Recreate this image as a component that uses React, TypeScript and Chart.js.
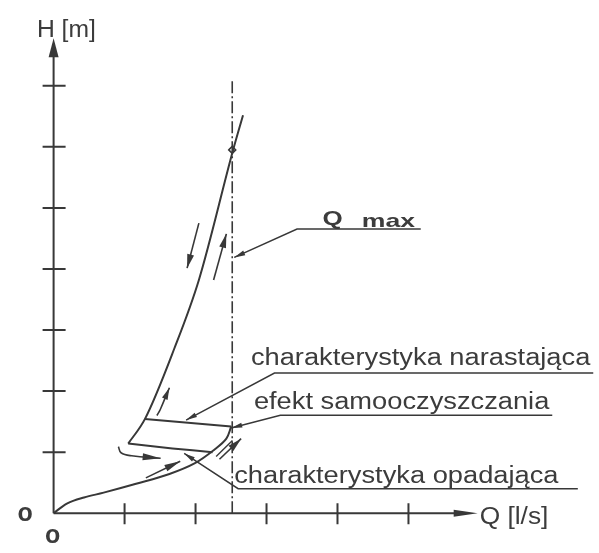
import { useEffect, useRef } from 'react';
import { Chart, registerables } from 'chart.js';

Chart.register(...registerables);

// ---- axis ticks (Q in tick units, H in tick units) ----
const xTicks = [1, 2, 3, 4, 5];
const yTicks = [1, 2, 3, 4, 5, 6, 7];
const Q_AXIS_END = 5.975;
const H_AXIS_END = 7.78;
const Q_MAX = 2.517;
const Q_MAX_LINE_TOP = 7.11;

// ---- curves ----
// rising characteristic from the origin (lower branch)
const risingQ = [0, 0.194, 0.429, 0.705, 1.162, 1.632, 1.992, 2.268, 2.434, 2.503];
const risingH = [0, 0.161, 0.257, 0.337, 0.482, 0.642, 0.819, 1.043, 1.22, 1.42];
// self-cleaning jump (upper horizontal, going back left)
const cleaningQ = [2.503, 1.286];
const cleaningH = [1.42, 1.541];
// steep branch up to Q max and beyond
const steepQ = [1.051, 1.286, 1.701, 2.047, 2.531, 2.669];
const steepH = [1.14, 1.541, 2.697, 3.82, 5.955, 6.517];
// falling characteristic (lower horizontal)
const fallingQ = [1.051, 1.674, 2.24];
const fallingH = [1.14, 1.059, 1.0];
// Q max marker
const markerQ = [2.517];
const markerH = [5.95];

// ---- direction arrows ----
const arrowDownQ = [2.047, 1.881];
const arrowDownH = [4.751, 4.013];
const arrowUpQ = [2.254, 2.434];
const arrowUpH = [3.82, 4.575];
const arrowHookQ = [1.455, 1.475, 1.5, 1.632];
const arrowHookH = [1.6, 1.64, 1.69, 2.055];
const arrowCurlQ = [0.913, 0.95, 1.1, 1.508];
const arrowCurlH = [1.091, 0.99, 0.94, 0.899];
const arrowLowQ = [1.3, 1.784];
const arrowLowH = [0.578, 0.851];
const arrowDblAQ = [2.337, 2.642];
const arrowDblAH = [0.883, 1.22];
const arrowDblBQ = [2.29, 2.52];
const arrowDblBH = [0.93, 1.19];

// ---- leader lines (tip first) ----
const leaderMaxQ = [2.545, 3.43, 5.173];
const leaderMaxH = [4.189, 4.655, 4.655];
const leaderRiseQ = [1.867, 3.112, 7.607];
const leaderRiseH = [1.525, 2.295, 2.295];
const leaderCleanQ = [2.503, 3.195, 7.026];
const leaderCleanH = [1.396, 1.605, 1.605];
const leaderFallQ = [1.84, 2.6, 7.386];
const leaderFallH = [0.979, 0.401, 0.401];

// ---- labels ----
const labelTexts = ['charakterystyka narastająca', 'efekt samooczyszczania', 'charakterystyka opadająca'];
const labelQ = [2.78, 2.822, 2.545];
const labelH = [2.424, 1.701, 0.498];
const axisTitleX = 'Q [l/s]';
const axisTitleY = 'H [m]';
const qMaxWord1 = 'Q';
const qMaxWord2 = 'max';
const zeroText = 'o';

const INK = '#383838';
const TEXT = '#3c3c3c';

const zip = (xs: number[], ys: number[]) => xs.map((v, i) => ({ x: v, y: ys[i] }));

type DS = any;

const line = (xs: number[], ys: number[], extra: DS = {}): DS => ({
  data: zip(xs, ys),
  showLine: true,
  borderColor: INK,
  backgroundColor: INK,
  borderWidth: 2,
  pointRadius: 0,
  tension: 0,
  ...extra,
});

function head(ctx: CanvasRenderingContext2D, tx: number, ty: number, fx: number, fy: number, len: number, half: number) {
  const a = Math.atan2(ty - fy, tx - fx);
  const bx = tx - len * Math.cos(a);
  const by = ty - len * Math.sin(a);
  const nx = -Math.sin(a) * half;
  const ny = Math.cos(a) * half;
  ctx.beginPath();
  ctx.moveTo(tx, ty);
  ctx.lineTo(bx + nx, by + ny);
  ctx.lineTo(bx - nx, by - ny);
  ctx.closePath();
  ctx.fill();
}

const diagramPlugin = {
  id: 'diagram',
  beforeDraw(chart: any) {
    const { ctx, width, height } = chart;
    ctx.save();
    ctx.fillStyle = '#ffffff';
    ctx.fillRect(0, 0, width, height);
    ctx.restore();
  },
  afterDatasetsDraw(chart: any) {
    const { ctx } = chart;
    const xs = chart.scales.x;
    const ys = chart.scales.y;
    const px = (v: number) => xs.getPixelForValue(v);
    const py = (v: number) => ys.getPixelForValue(v);
    ctx.save();
    ctx.strokeStyle = INK;
    ctx.fillStyle = INK;
    ctx.lineWidth = 2;
    ctx.lineCap = 'butt';

    // axes
    const ox = px(0);
    const oy = py(0);
    ctx.beginPath();
    ctx.moveTo(ox, oy);
    ctx.lineTo(ox, py(H_AXIS_END) + 10);
    ctx.moveTo(ox, oy);
    ctx.lineTo(px(Q_AXIS_END) - 12, oy);
    ctx.stroke();
    head(ctx, ox, py(H_AXIS_END), ox, oy, 19, 5);
    head(ctx, px(Q_AXIS_END), oy, ox, oy, 24, 3.5);

    // ticks crossing the axes
    ctx.beginPath();
    yTicks.forEach((t) => {
      const yy = py(t);
      ctx.moveTo(ox - 11, yy);
      ctx.lineTo(ox + 12, yy);
    });
    xTicks.forEach((t) => {
      const xx = px(t);
      ctx.moveTo(xx, oy - 10);
      ctx.lineTo(xx, oy + 11);
    });
    ctx.stroke();

    // arrowheads on datasets
    chart.data.datasets.forEach((ds: any) => {
      if (!ds.arrowAt) return;
      const d = ds.data;
      let tip, from;
      if (ds.arrowAt === 'start') {
        tip = d[0];
        from = d[1];
      } else {
        tip = d[d.length - 1];
        from = d[d.length - 2];
      }
      head(ctx, px(tip.x), py(tip.y), px(from.x), py(from.y), ds.headLen || 12, ds.headHalf || 3.5);
    });

    // texts
    ctx.fillStyle = TEXT;
    ctx.textBaseline = 'alphabetic';
    ctx.textAlign = 'left';
    const drawText = (txt: string, x: number, y: number, font: string, sx: number) => {
      ctx.save();
      ctx.translate(x, y);
      ctx.scale(sx, 1);
      ctx.font = font;
      ctx.fillText(txt, 0, 0);
      ctx.restore();
    };
    const labelFont = '23.5px "Liberation Sans", Arial, sans-serif';
    labelTexts.forEach((t, i) => drawText(t, px(labelQ[i]), py(labelH[i]), labelFont, 1.16));
    drawText(axisTitleX, px(6.003), py(-0.177), labelFont, 1.12);
    drawText(axisTitleY, px(-0.235), py(7.801), labelFont, 1.05);
    drawText(qMaxWord1, px(3.79), py(4.72), 'bold 20px "Liberation Sans", Arial, sans-serif', 1.3);
    drawText(qMaxWord2, px(4.343), py(4.68), 'bold 19px "Liberation Sans", Arial, sans-serif', 1.4);
    const zeroFont = 'bold 25px "Liberation Sans", Arial, sans-serif';
    ctx.textAlign = 'center';
    ctx.textBaseline = 'middle';
    ctx.font = zeroFont;
    ctx.fillText(zeroText, px(-0.401), py(-0.02));
    ctx.fillText(zeroText, px(-0.014), py(-0.38));
    ctx.restore();
  },
};

export default function App() {
  const ref = useRef<HTMLCanvasElement>(null);
  useEffect(() => {
    const datasets: DS[] = [
      line(risingQ, risingH, { tension: 0.35 }),
      line(cleaningQ, cleaningH),
      line(steepQ, steepH, { cubicInterpolationMode: 'monotone' }),
      line(fallingQ, fallingH, { tension: 0.2 }),
      line([Q_MAX, Q_MAX], [0, Q_MAX_LINE_TOP], { borderWidth: 1.6, borderDash: [12, 3, 2, 3] }),
      {
        data: zip(markerQ, markerH),
        showLine: false,
        pointStyle: 'rectRot',
        pointRadius: 3.5,
        pointBorderWidth: 1.5,
        pointBorderColor: INK,
        pointBackgroundColor: '#ffffff',
      },
      line(arrowDownQ, arrowDownH, { borderWidth: 1.6, arrowAt: 'end', headLen: 14, headHalf: 3.5 }),
      line(arrowUpQ, arrowUpH, { borderWidth: 1.6, arrowAt: 'end', headLen: 14, headHalf: 3.5 }),
      line(arrowHookQ, arrowHookH, { borderWidth: 1.6, tension: 0.4, arrowAt: 'end', headLen: 12, headHalf: 3 }),
      line(arrowCurlQ, arrowCurlH, { borderWidth: 1.6, tension: 0.4, arrowAt: 'end', headLen: 18, headHalf: 3.5 }),
      line(arrowLowQ, arrowLowH, { borderWidth: 1.6, arrowAt: 'end', headLen: 16, headHalf: 3.5 }),
      line(arrowDblAQ, arrowDblAH, { borderWidth: 1.6, arrowAt: 'end', headLen: 14, headHalf: 3.5 }),
      line(arrowDblBQ, arrowDblBH, { borderWidth: 1.4 }),
      line(leaderMaxQ, leaderMaxH, { borderWidth: 1.5, arrowAt: 'start', headLen: 11, headHalf: 2.5 }),
      line(leaderRiseQ, leaderRiseH, { borderWidth: 1.5, arrowAt: 'start', headLen: 11, headHalf: 2.5 }),
      line(leaderCleanQ, leaderCleanH, { borderWidth: 1.5, arrowAt: 'start', headLen: 11, headHalf: 2.5 }),
      line(leaderFallQ, leaderFallH, { borderWidth: 1.5, arrowAt: 'start', headLen: 11, headHalf: 2.5 }),
    ];
    const chart = new Chart(ref.current as HTMLCanvasElement, {
      type: 'scatter',
      data: { datasets },
      options: {
        animation: false,
        responsive: false,
        devicePixelRatio: 1,
        layout: { padding: 0 },
        events: [],
        plugins: { legend: { display: false }, tooltip: { enabled: false } },
        scales: {
          x: { type: 'linear', min: -0.6777, max: 7.607, display: false },
          y: { type: 'linear', min: -0.5618, max: 8.3146, display: false },
        },
      },
      plugins: [diagramPlugin],
    } as any);
    return () => chart.destroy();
  }, []);
  return (
    <div style={{ position: 'fixed', left: 0, top: 0, width: 599, height: 553, background: '#fff' }}>
      <canvas ref={ref} width={599} height={553} style={{ display: 'block' }} />
    </div>
  );
}
